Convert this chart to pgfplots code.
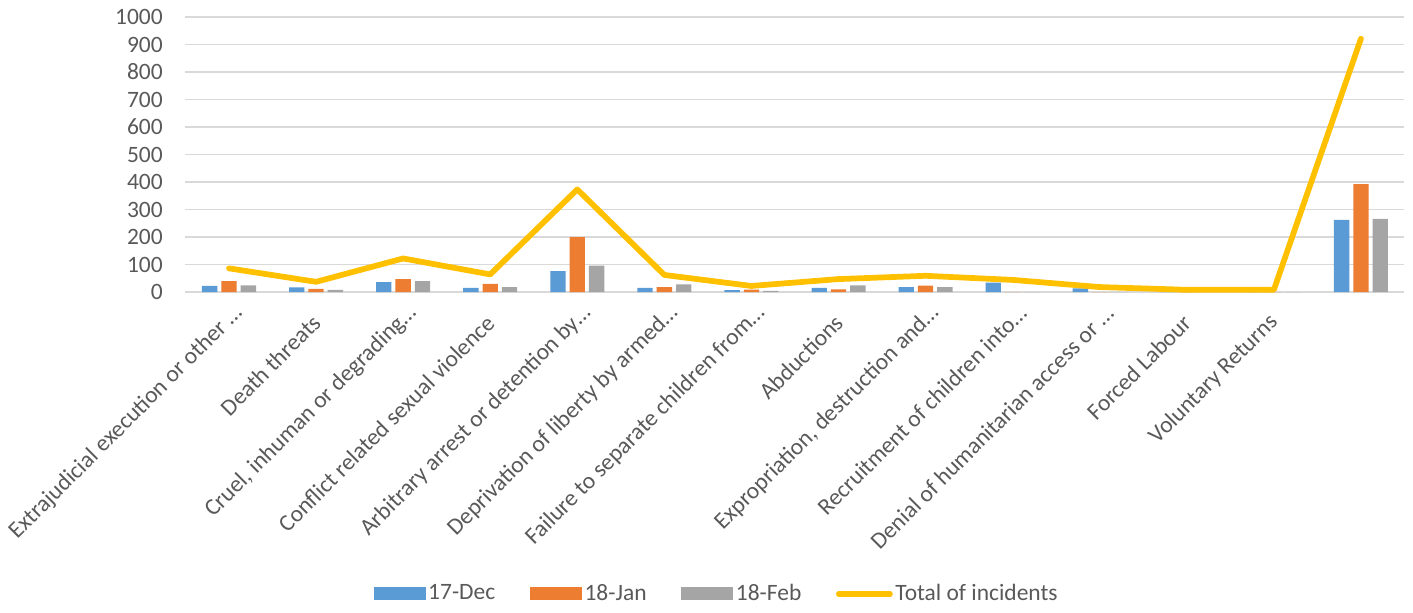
\documentclass[border=0pt]{standalone}
\usepackage{pgfplots}
\pgfplotsset{compat=1.18}
\usepackage{fontspec}
\setmainfont{Carlito}
\definecolor{cblue}{HTML}{5B9BD5}
\definecolor{corange}{HTML}{ED7D31}
\definecolor{cgray}{HTML}{A5A5A5}
\definecolor{cyellow}{HTML}{FFC000}
\definecolor{ctext}{HTML}{595959}
\definecolor{cgrid}{HTML}{D9D9D9}
\newcommand{\el}{…\hspace*{-10pt}}
\pgfplotstableread{
x blue orange gray total
0 22 40 24 86
1 17 11 8 37
2 36 47 40 122
3 15 30 18 64
4 76 200 96 373
5 15 18 28 62
6 7 9 4 22
7 15 10 24 47
8 18 23 18 59
9 34 0 0 44
10 13 0 0 18
11 0 0 0 8
12 0 0 0 8
13 262 392 266 921
}\data
\begin{document}
\fontsize{17.6}{21}\selectfont
\begin{tikzpicture}
\begin{axis}[
  scale only axis,
  width=914.25pt, height=206.25pt,
  xmin=-0.5, xmax=13.5, ymin=0, ymax=1000,
  clip=false,
  axis x line*=bottom, axis y line*=left,
  y axis line style={draw=none},
  x axis line style={draw=cgrid, line width=0.9pt, -},
  major tick length=0pt,
  ytick={0,100,...,1000},
  yticklabel style={/pgf/number format/1000 sep={}},
  ymajorgrids, grid style={draw=cgrid, line width=0.9pt},
  xtick={0,...,12},
  xticklabels={Extrajudicial execution or other \el,Death threats,{Cruel, inhuman or degrading\el},Conflict related sexual violence,Arbitrary arrest or detention by\el,Deprivation of liberty by armed\el,Failure to separate children from\el,Abductions,{Expropriation, destruction and\el},Recruitment of children into\el,Denial of humanitarian access or \el,Forced Labour,Voluntary Returns},
  xticklabel style={rotate=45, anchor=east, inner sep=0pt, xshift=-14pt, yshift=-14.5pt, text=ctext, font=\fontsize{17.6}{21}\selectfont},
  yticklabel style={text=ctext, xshift=-11pt, font=\fontsize{17.6}{21}\selectfont},
  /pgf/number format/assume math mode=true,
  legend columns=4,
  legend style={at={(0.436,-1.098)}, anchor=center, draw=none, fill=none,
    font=\fontsize{17.6}{21}\selectfont, text=ctext,
    /tikz/every even column/.append style={column sep=24pt},
    nodes={inner sep=2pt}},
]
\addplot[ybar, bar width=11.5pt, bar shift=-14.5pt, fill=cblue, draw=none,
  legend image code/.code={\fill[cblue] (0pt,-4.875pt) rectangle (39pt,4.875pt);}]
  table[x=x, y=blue] {\data};
\addlegendentry{17-Dec}
\addplot[ybar, bar width=11.5pt, bar shift=0pt, fill=corange, draw=none,
  legend image code/.code={\fill[corange] (0pt,-4.875pt) rectangle (39pt,4.875pt);}]
  table[x=x, y=orange] {\data};
\addlegendentry{18-Jan}
\addplot[ybar, bar width=11.5pt, bar shift=14.5pt, fill=cgray, draw=none,
  legend image code/.code={\fill[cgray] (0pt,-4.875pt) rectangle (39pt,4.875pt);}]
  table[x=x, y=gray] {\data};
\addlegendentry{18-Feb}
\addplot[cyellow, line width=4.3pt, line join=round, line cap=round, mark=none,
  legend image code/.code={\draw[cyellow, line width=3.8pt, line cap=round] (2pt,0pt) -- (40.75pt,0pt);}]
  table[x=x, y=total] {\data};
\addlegendentry{Total of incidents}
\coordinate (bl) at (rel axis cs:0,0);
\end{axis}
\pgfresetboundingbox
\path[use as bounding box] (bl) ++(-139.1pt,-240pt) rectangle ++(1059.75pt,459pt);
\end{tikzpicture}
\end{document}
